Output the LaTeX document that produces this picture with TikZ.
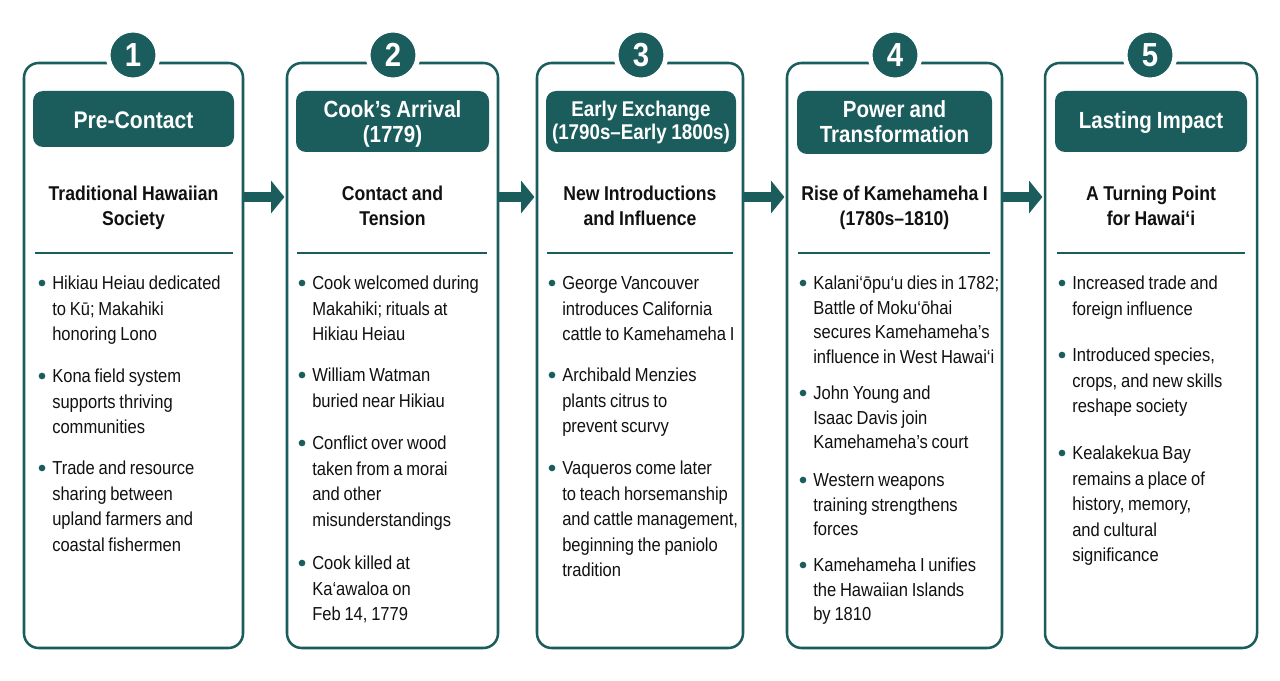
\documentclass[tikz,border=0pt]{standalone}
\usepackage{fontspec}
\setmainfont{Liberation Sans}[FakeStretch=0.88]
\usetikzlibrary{arrows.meta,fit,calc}
\definecolor{teal1}{HTML}{1B5C5C}
\definecolor{ink}{HTML}{111111}
\newcommand\BItem[4]{%
  \node[dot] (#1d) at (#2-10,#3) {};
  \node[itemtext] (#1) at (#2,#3+6.5) {\spaceskip=0.2em\relax #4};
}
\newcommand\tsp{\spaceskip=0.22em\relax}
\begin{document}
\begin{tikzpicture}[x=0.75pt,y=-0.75pt,
  panel/.style={draw=teal1,line width=1.9pt,rounded corners=11pt,inner sep=0pt,fill=white},
  tbox/.style={fill=teal1,rounded corners=7.5pt,inner sep=0pt},
  num/.style={circle,fill=teal1,draw=white,line width=3.75pt,minimum size=37.5pt,inner sep=0pt,
    text=white,font=\bfseries\fontsize{25pt}{25pt}\selectfont},
  ttext/.style={anchor=base,text=white,font=\bfseries\fontsize{17.5pt}{18pt}\selectfont,
    align=center,text width=150pt,inner sep=0pt},
  stext/.style={anchor=base,text=ink,font=\bfseries\fontsize{15pt}{18.75pt}\selectfont,
    align=center,text width=150pt,inner sep=0pt},
  itemtext/.style={anchor=base west,text=ink,
    font=\fontsize{14.1pt}{19.2pt}\selectfont,
    align=left,text width=150pt,inner sep=0pt},
  dot/.style={circle,fill=teal1,minimum size=5pt,inner sep=0pt},
  sepline/.style={draw=teal1,line width=1.9pt},
  conn/.style={draw=teal1,line width=7.5pt,-{Triangle[length=10pt,width=24pt]},shorten >=1pt}
]
\useasboundingbox[fill=white] (0,0) rectangle (1280,681);

% panels
\node[panel,fit={(24,63) (243,648)}] (p1) {};
\node[panel,fit={(287,63) (498,648)}] (p2) {};
\node[panel,fit={(537,63) (743,648)}] (p3) {};
\node[panel,fit={(787,63) (1002,648)}] (p4) {};
\node[panel,fit={(1045,63) (1257,648)}] (p5) {};

% number circles
\node[num] (n1) at (133,55) {1};
\node[num] (n2) at (393,55) {2};
\node[num] (n3) at (641,55) {3};
\node[num] (n4) at (895,55) {4};
\node[num] (n5) at (1150,55) {5};

% title boxes
\node[tbox,fit={(33,91) (234,147)}] (t1) {};
\node[tbox,fit={(296,91) (489,152)}] (t2) {};
\node[tbox,fit={(546,91) (736,152)}] (t3) {};
\node[tbox,fit={(797,91) (992,154)}] (t4) {};
\node[tbox,fit={(1055,91) (1247,152)}] (t5) {};

\node[ttext,font=\bfseries\fontsize{18pt}{18pt}\selectfont] (t1x) at (133.5,128) {Pre-Contact};
\node[ttext] (t2x) at (392.5,118) {\tsp Cook’s Arrival\\(1779)};
\node[ttext,font=\bfseries\fontsize{16pt}{17.25pt}\selectfont] (t3x) at (641,117) {\tsp Early Exchange\\(1790s–Early 1800s)};
\node[ttext] (t4x) at (894.5,118) {\tsp Power and\\Transformation};
\node[ttext] (t5x) at (1151,129) {\tsp Lasting Impact};

% subtitles
\node[stext] (s1) at (133.5,200) {\tsp Traditional Hawaiian\\Society};
\node[stext] (s2) at (392.5,200) {\tsp Contact and\\Tension};
\node[stext] (s3) at (640,200) {\tsp New Introductions\\and Influence};
\node[stext] (s4) at (894.5,200) {\tsp Rise of Kamehameha I\\(1780s–1810)};
\node[stext] (s5) at (1151,200) {\tsp A Turning Point\\for Hawai‘i};

% separators
\draw[sepline] (35,253) -- (233,253);
\draw[sepline] (297,253) -- (487,253);
\draw[sepline] (547,253) -- (733,253);
\draw[sepline] (798,253) -- (990,253);
\draw[sepline] (1057,253) -- (1245,253);

% arrows
\coordinate (arow) at (0,197);
\draw[conn] (p1.east |- arow) -- (p2.west |- arow);
\draw[conn] (p2.east |- arow) -- (p3.west |- arow);
\draw[conn] (p3.east |- arow) -- (p4.west |- arow);
\draw[conn] (p4.east |- arow) -- (p5.west |- arow);

% panel 1
\BItem{i11}{52}{283}{Hikiau Heiau dedicated\\to Kū; Makahiki\\honoring Lono}
\BItem{i12}{52}{376}{Kona field system\\supports thriving\\communities}
\BItem{i13}{52}{468}{Trade and resource\\sharing between\\upland farmers and\\coastal fishermen}

% panel 2
\BItem{i21}{312}{283}{Cook welcomed during\\Makahiki; rituals at\\Hikiau Heiau}
\BItem{i22}{312}{375}{William Watman\\buried near Hikiau}
\BItem{i23}{312}{443}{Conflict over wood\\taken from a morai\\and other\\misunderstandings}
\BItem{i24}{312}{563}{Cook killed at\\Ka‘awaloa on\\Feb 14, 1779}

% panel 3
\BItem{i31}{562}{283}{George Vancouver\\introduces California\\cattle to Kamehameha I}
\BItem{i32}{562}{375}{Archibald Menzies\\plants citrus to\\prevent scurvy}
\BItem{i33}{562}{468}{Vaqueros come later\\to teach horsemanship\\and cattle management,\\beginning the paniolo\\tradition}

% panel 4
\begin{scope}[itemtext/.append style={font=\fontsize{14.1pt}{18.5pt}\selectfont}]
\BItem{i41}{813}{283}{Kalani‘ōpu‘u dies in 1782;\\Battle of Moku‘ōhai\\secures Kamehameha’s\\influence in West Hawai‘i}
\BItem{i42}{813}{393}{John Young and\\Isaac Davis join\\Kamehameha’s court}
\BItem{i43}{813}{480}{Western weapons\\training strengthens\\forces}
\BItem{i44}{813}{565}{Kamehameha I unifies\\the Hawaiian Islands\\by 1810}
\end{scope}

% panel 5
\BItem{i51}{1072}{283}{Increased trade and\\foreign influence}
\BItem{i52}{1072}{355}{Introduced species,\\crops, and new skills\\reshape society}
\BItem{i53}{1072}{453}{Kealakekua Bay\\remains a place of\\history, memory,\\and cultural\\significance}
\end{tikzpicture}
\end{document}
